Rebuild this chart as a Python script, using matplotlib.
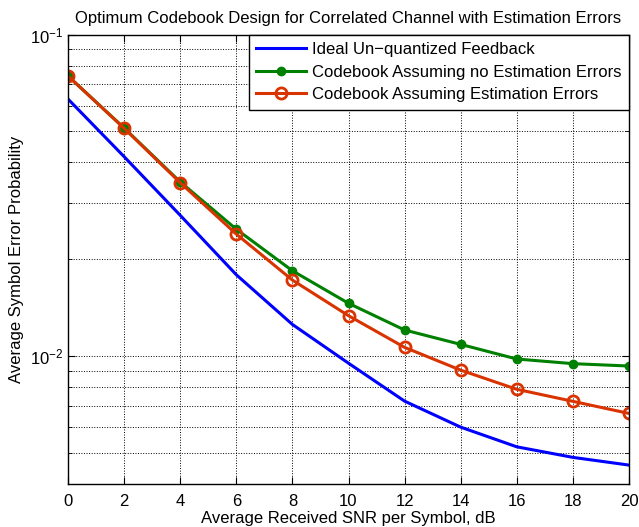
import matplotlib.pyplot as plt
import numpy as np
from matplotlib.ticker import LogLocator, NullFormatter

plt.rcParams['font.family'] = ['Liberation Sans', 'DejaVu Sans']
plt.rcParams['mathtext.fontset'] = 'custom'
plt.rcParams['mathtext.rm'] = 'Liberation Sans'

snr = [0, 2, 4, 6, 8, 10, 12, 14, 16, 18, 20]
ideal = [0.0630, 0.0417, 0.0274, 0.0179, 0.01254, 0.0095, 0.00724, 0.00601, 0.00522, 0.00484, 0.00458]
no_est = [0.0743, 0.0512, 0.0348, 0.0248, 0.01842, 0.01459, 0.01205, 0.01087, 0.00979, 0.00947, 0.00931]
with_est = [0.0743, 0.0511, 0.0346, 0.02395, 0.01723, 0.01335, 0.01064, 0.00904, 0.00788, 0.00723, 0.00663]

fig = plt.figure(figsize=(6.39, 5.27), dpi=100)
ax = fig.add_axes([68 / 639, 1 - 484 / 527, (629 - 68) / 639, (484 - 34.5) / 527])

ax.semilogy(snr, ideal, color='#0000ff', lw=2.2, label='Ideal Un\u2212quantized Feedback')
ax.semilogy(snr, no_est, color='#008000', lw=2.2, marker='o', ms=6,
            label='Codebook Assuming no Estimation Errors')
ax.semilogy(snr, with_est, color='#d93300', lw=2.2, marker='o', ms=8, mfc='none', mew=2,
            label='Codebook Assuming Estimation Errors')

ax.set_xlim(0, 20)
ax.set_ylim(4e-3, 1e-1)
ax.set_xticks(snr)
ax.yaxis.set_major_locator(LogLocator(base=10))
ax.yaxis.set_minor_locator(LogLocator(base=10, subs=np.arange(2, 10)))
ax.yaxis.set_minor_formatter(NullFormatter())
ax.grid(True, which='major', ls=':', color='black', lw=0.7)
ax.grid(True, which='minor', axis='y', ls=':', color='black', lw=0.7)
ax.tick_params(which='both', direction='in', top=True, right=True, labelsize=12)
ax.tick_params(which='major', length=5)
ax.tick_params(which='minor', length=3)
ax.tick_params(axis='x', pad=7)
for s in ax.spines.values():
    s.set_linewidth(1.0)

ax.set_title('Optimum Codebook Design for Correlated Channel with Estimation Errors', fontsize=12, pad=8)
ax.set_xlabel('Average Received SNR per Symbol, dB', fontsize=12, labelpad=2)
ax.set_ylabel('Average Symbol Error Probability', fontsize=12, labelpad=4)

leg = ax.legend(loc='upper right', borderaxespad=0, fancybox=False, edgecolor='black',
                fontsize=12, framealpha=1, handlelength=3.0, handletextpad=0.35,
                borderpad=0.45, labelspacing=0.45)
leg.get_frame().set_linewidth(1.0)

fig.savefig('out.png', dpi=100)
